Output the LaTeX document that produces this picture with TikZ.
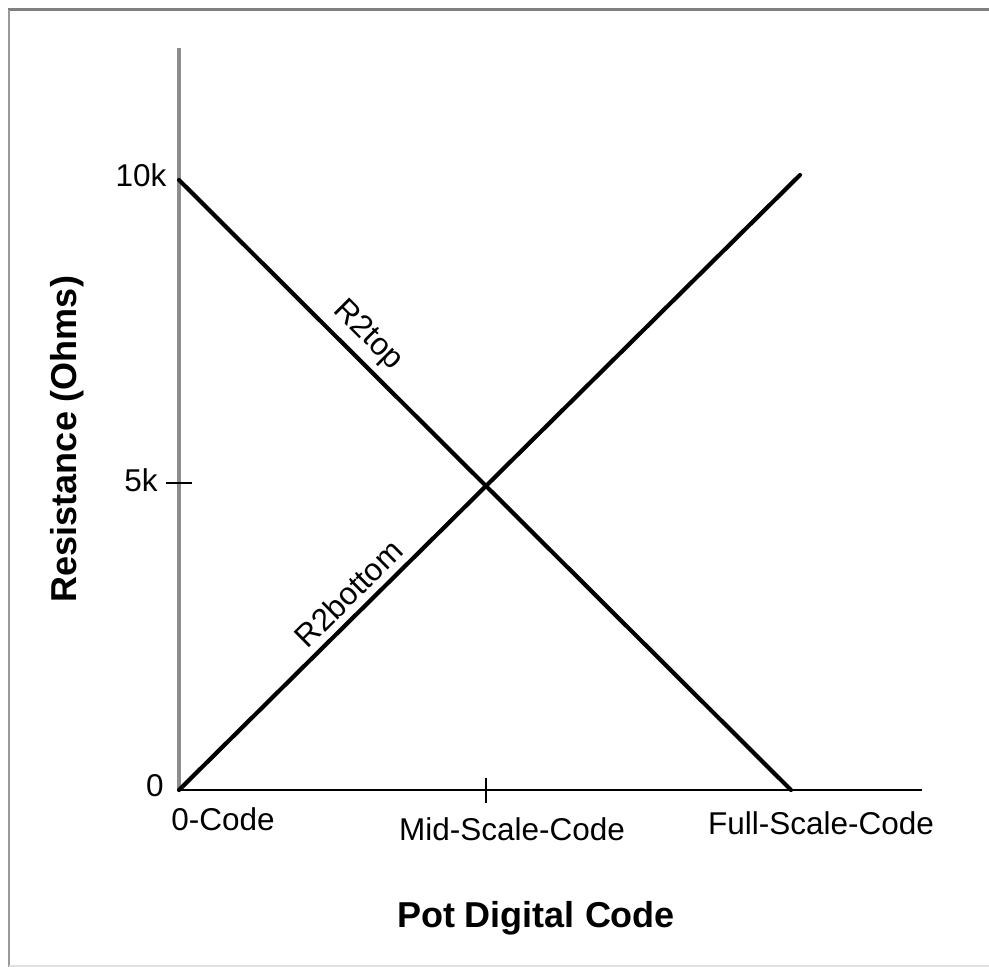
\documentclass[tikz,border=0pt]{standalone}
\usepackage{fontspec}
\setmainfont{Liberation Sans}
\usetikzlibrary{calc}
\tikzset{>=latex}
\colorlet{axisgray}{black!45}
\colorlet{framegray}{black!50}
\newcommand{\lblfont}{\fontsize{15.75}{18}\selectfont}
\newcommand{\ttlfont}{\fontsize{18}{21}\selectfont\bfseries}
\tikzset{
  curve/.style={line width=2.1pt,line cap=round},
  ticklbl/.style={font=\lblfont,inner sep=0pt},
  axtitle/.style={font=\ttlfont,inner sep=0pt}
}

\begin{document}
\begin{tikzpicture}[x=0.5pt,y=-0.5pt]
  \useasboundingbox (0,0) rectangle (989,967);
  % frame
  \draw[framegray,line width=1.5pt] (8,10) -- (989,10);
  \draw[framegray!80,line width=1.2pt] (9,10) -- (9,967);
  \draw[black!12,line width=0.6pt] (9,966) -- (989,966);
  % axes
  \coordinate (o) at (179,790);
  \coordinate (ytop) at (179,48);
  \coordinate (xend) at (922,790);
  \coordinate (ymax) at (179,180);
  \coordinate (ymid) at (179,483);
  \coordinate (xmid) at (486,790);
  \coordinate (xfull) at (791,790);
  \coordinate (rmax) at (800,175);
  \draw[axisgray,line width=1.6pt] (o) -- (ytop);
  \draw[line width=1.2pt] (o) -- (xend);
  \draw[line width=0.9pt] ($(ymid)+(-13,0)$) -- ($(ymid)+(13,0)$);
  \draw[line width=0.9pt] ($(xmid)+(0,-12)$) -- ($(xmid)+(0,13)$);
  % tick labels
  \node[ticklbl] (l10k) at (141,175) {10k};
  \node[ticklbl] (l5k) at (141,480) {5k};
  \node[ticklbl] (l0) at (155,786) {0};
  \node[ticklbl] (c0) at (223,819) {0-Code};
  \node[ticklbl] (cmid) at (512,829) {Mid-Scale-Code};
  \node[ticklbl] (cfull) at (821,823) {Full-Scale-Code};
  % axis titles
  \node[axtitle] (xttl) at (536,918) {Pot Digital Code};
  \node[axtitle,rotate=90] (yttl) at (67,439) {Resistance (Ohms)};
  % the two resistances
  \draw[curve] (ymax) -- (xfull) node[pos=0.282,sloped,above,font=\lblfont] (rtop) {R2top};
  \draw[curve] (o) -- (rmax) node[pos=0.296,sloped,above,font=\lblfont] (rbot) {R2bottom};
\end{tikzpicture}
\end{document}
